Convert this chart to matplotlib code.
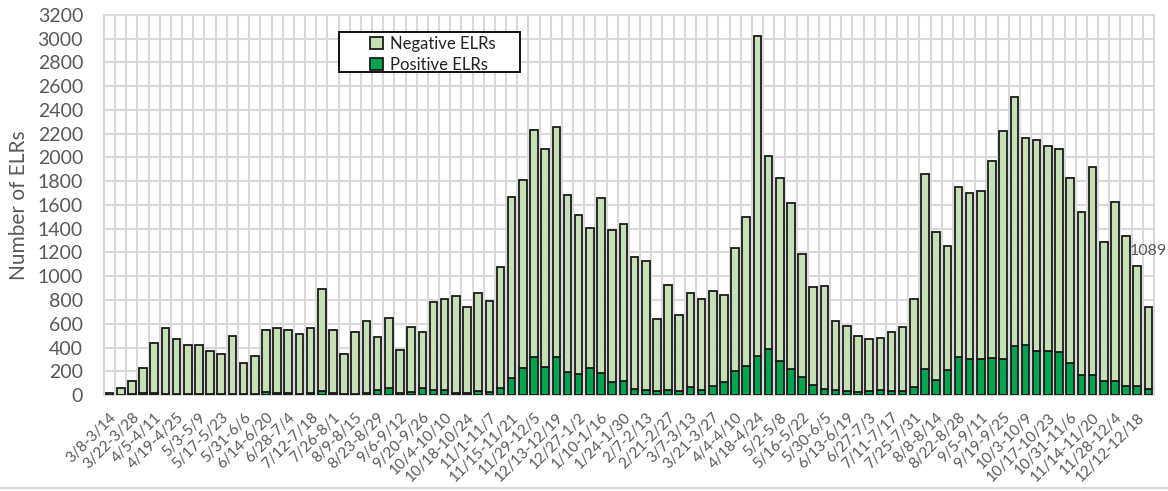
import numpy as np
import pandas as pd
import matplotlib
matplotlib.use('Agg')
import matplotlib.pyplot as plt
from matplotlib.patches import Rectangle

# weekly totals of ELRs (negative + positive)
total = [20, 59, 121, 225, 435, 561, 469, 424, 424, 373,
         342, 494, 272, 328, 550, 561, 550, 511, 567, 890,
         545, 342, 528, 620, 488, 646, 382, 573, 531, 780,
         811, 836, 738, 856, 792, 1075, 1665, 1811, 2234, 2074,
         2254, 1684, 1519, 1404, 1656, 1390, 1443, 1163, 1128, 641,
         930, 676, 862, 807, 877, 842, 1238, 1502, 3023, 2015,
         1827, 1617, 1190, 909, 921, 621, 578, 497, 472, 476,
         527, 573, 812, 1858, 1375, 1258, 1754, 1698, 1718, 1968,
         2220, 2507, 2164, 2150, 2097, 2069, 1825, 1541, 1917, 1286,
         1622, 1342, 1089, 738]

positive = [2, 3, 5, 14, 18, 10, 8, 10, 10, 8,
            8, 10, 8, 10, 28, 17, 17, 11, 17, 31,
            14, 8, 11, 14, 46, 60, 17, 25, 60, 46,
            40, 17, 17, 34, 25, 60, 140, 229, 318, 237,
            318, 190, 176, 224, 182, 107, 121, 53, 38, 31,
            45, 31, 65, 45, 79, 112, 202, 242, 332, 387,
            286, 216, 148, 86, 52, 45, 31, 24, 31, 38,
            36, 34, 66, 223, 125, 210, 318, 300, 300, 312,
            306, 414, 421, 368, 374, 359, 269, 168, 168, 114,
            114, 78, 74, 52]

negative = [t - p for t, p in zip(total, positive)]

# week categories, 3/8/2020 onward
starts = pd.date_range('2020-03-08', periods=len(total), freq='7D')
weeks = []
for d in starts:
    e = d + pd.Timedelta(days=6)
    weeks.append(str(d.month) + '/' + str(d.day) + '-' + str(e.month) + '/' + str(e.day))

last_label = '1089'

gray = '#595959'
light = '#C5E0B4'
dark = '#00A64F'
font = 'Lato'

fig = plt.figure(figsize=(11.68, 4.91), dpi=100)
ax = fig.add_axes([0.089, 0.1955, 0.899, 0.774])

x = np.arange(len(total))
w = 0.68
ax.bar(x, positive, w, color=dark, edgecolor='#1a1a1a', linewidth=1.3, label='Positive ELRs', zorder=3)
ax.bar(x, negative, w, bottom=positive, color=light, edgecolor='#1a1a1a', linewidth=1.3,
       label='Negative ELRs', zorder=3)

ax.text(x[-1], total[-2] + 120, last_label, ha='center', va='center', color=gray,
        fontsize=11.5, family=font)

ax.set_xlim(-0.5, len(total) - 0.5)
ax.set_ylim(0, 3200)
ax.set_yticks(range(0, 3201, 200))
ax.set_xticks(x[::2])
ax.set_xticklabels(weeks[::2], rotation=45, ha='right', rotation_mode='anchor',
                   fontsize=11, color=gray, family=font)
ax.set_xticks(x[:-1] + 0.5, minor=True)
ax.tick_params(axis='x', which='both', length=0, pad=11)
ax.tick_params(axis='y', length=0, labelsize=14, labelcolor=gray, pad=15)
for lab in ax.get_yticklabels():
    lab.set_family(font)

ax.grid(True, which='major', axis='y', color='#D9D9D9', linewidth=1.5, zorder=0)
ax.grid(True, which='minor', axis='x', color='#D9D9D9', linewidth=1.5, zorder=0)
for s in ax.spines.values():
    s.set_color('#D9D9D9')
    s.set_linewidth(1.5)

ax.set_ylabel('Number of ELRs', fontsize=15, color=gray, family=font, labelpad=6)

# legend: Excel style box, with blank room left of the swatches
ax.add_patch(Rectangle(((339 - 104) / 1050, (395 - 72) / 380), 181 / 1050, 40 / 380,
                       transform=ax.transAxes, facecolor='white', edgecolor='black',
                       linewidth=1.3, zorder=5, clip_on=False))
handles, labels = ax.get_legend_handles_labels()
leg = ax.legend(handles[::-1], labels[::-1], loc='upper left', bbox_to_anchor=(0.2425, 0.976),
                frameon=False, handlelength=0.75, handleheight=0.75, handletextpad=0.45,
                borderpad=0.2, labelspacing=0.3, prop={'family': font, 'size': 12})
leg.set_zorder(6)
for t in leg.get_texts():
    t.set_color('#222222')

fig.add_artist(plt.Line2D([0, 1], [0.006, 0.006], color='#D9D9D9', linewidth=1.5))

fig.savefig('out.png', dpi=100)
